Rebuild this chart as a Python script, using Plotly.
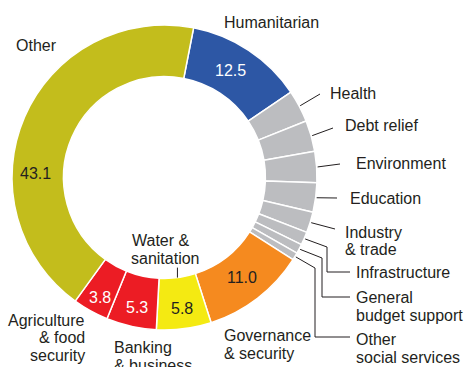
import math
import plotly.graph_objects as go

# ---- data (clockwise from Humanitarian) ----
sectors = ["Humanitarian", "Health", "Debt relief", "Environment", "Education",
           "Industry & trade", "Infrastructure", "General budget support",
           "Other social services", "Governance & security", "Water & sanitation",
           "Banking & business", "Agriculture & food security", "Other"]
shares = [12.5, 3.4, 3.3, 3.3, 3.1, 2.2, 1.4, 1.0, 0.8, 11.0, 5.8, 5.3, 3.8, 43.1]
value_labels = ["12.5", "", "", "", "", "", "", "", "", "11.0", "5.8", "5.3", "3.8", "43.1"]

# ---- style ----
OLIVE, BLUE, GREY = "#C3BD1C", "#2D57A5", "#BCBDC0"
ORANGE, YELLOW, RED = "#F58A1F", "#F4EA12", "#EC1C24"
colors = [BLUE] + [GREY] * 8 + [ORANGE, YELLOW, RED, RED, OLIVE]
TXT = "#231F20"
FONT = "Liberation Sans, Arial, sans-serif"
FS = 16

W, H = 464, 367
CX, CY, R = 164.5, 177.5, 152.5
HOLE = 0.662
ROT = 11

fig = go.Figure(go.Pie(
    labels=sectors, values=shares, sort=False, direction="clockwise",
    rotation=ROT, hole=HOLE, textinfo="none", hoverinfo="label+value",
    marker=dict(colors=colors, line=dict(color="white", width=1.5)),
    domain=dict(x=[(CX - R) / W, (CX + R) / W], y=[1 - (CY + R) / H, 1 - (CY - R) / H]),
    showlegend=False,
))

def px(x, y):
    return x / W, 1 - y / H

total = sum(shares)
mids = []
acc = 0
for v in shares:
    mids.append(ROT + (acc + v / 2) / total * 360)
    acc += v

def on_circle(angle, rad):
    a = math.radians(angle)
    return CX + rad * math.sin(a), CY - rad * math.cos(a)

shapes = []
def seg(p0, p1):
    x0, y0 = px(*p0)
    x1, y1 = px(*p1)
    shapes.append(dict(type="line", xref="paper", yref="paper", x0=x0, y0=y0, x1=x1, y1=y1,
                       line=dict(color=TXT, width=1)))

# leader-line layout: index -> list of following points (pixels)
leaders = {
    1: [(320, 94)],
    2: [(333, 128)],
    3: [(340, 164)],
    4: [(337, 198)],
    5: [(335, 229)],
    6: [(327, 247), (327, 272), (350, 272)],
    7: [(322, 258), (322, 297), (350, 297)],
    8: [(315, 268), (315, 337), (350, 337)],
}
for i, pts in leaders.items():
    prev = on_circle(mids[i], R + 1)
    for p in pts:
        seg(prev, p)
        prev = p
# Water & sanitation tick inside hole
wi = sectors.index("Water & sanitation")
wp = on_circle(mids[wi], R * HOLE)
seg((wp[0], wp[1] - 10), wp)

annotations = []
def text(t, x, y, anchor="left", color=TXT):
    ax, ay = px(x, y)
    annotations.append(dict(text=t, x=ax, y=ay, xref="paper", yref="paper", showarrow=False,
                            xanchor=anchor, yanchor="middle",
                            font=dict(family=FONT, size=FS, color=color)))

# category labels (one annotation per line)
label_layout = [
    ("Other", 14, 46, "left"),
    ("Humanitarian", 222, 22, "left"),
    ("Health", 328, 93, "left"),
    ("Debt relief", 343, 126, "left"),
    ("Environment", 354, 163, "left"),
    ("Education", 348, 198, "left"),
    ("Industry", 343, 232, "left"), ("& trade", 343, 249, "left"),
    ("Infrastructure", 354, 272, "left"),
    ("General", 354, 297, "left"), ("budget support", 354, 315, "left"),
    ("Other", 354, 339, "left"), ("social services", 354, 357, "left"),
    ("Governance", 222, 335, "left"), ("& security", 222, 353, "left"),
    ("Water &", 130, 240, "left"), ("sanitation", 129, 258, "left"),
    ("Agriculture", 87, 320, "right"), ("& food", 87, 337, "right"), ("security", 87, 355, "right"),
    ("Banking", 112, 347, "left"), ("& business", 112, 365, "left"),
]
for t, x, y, a in label_layout:
    text(t, x, y, a)

# value labels inside the ring
value_pos = {0: (230, 70, "white"), 9: (242, 277, TXT), 10: (182, 308, TXT),
             11: (137, 307, "white"), 12: (100, 297, "white"), 13: (35, 173, TXT)}
for i, (x, y, c) in value_pos.items():
    text(value_labels[i], x, y, "center", c)

fig.update_layout(width=W, height=H, margin=dict(l=0, r=0, t=0, b=0),
                  paper_bgcolor="white", plot_bgcolor="white",
                  shapes=shapes, annotations=annotations)
fig.write_html("out.html")
